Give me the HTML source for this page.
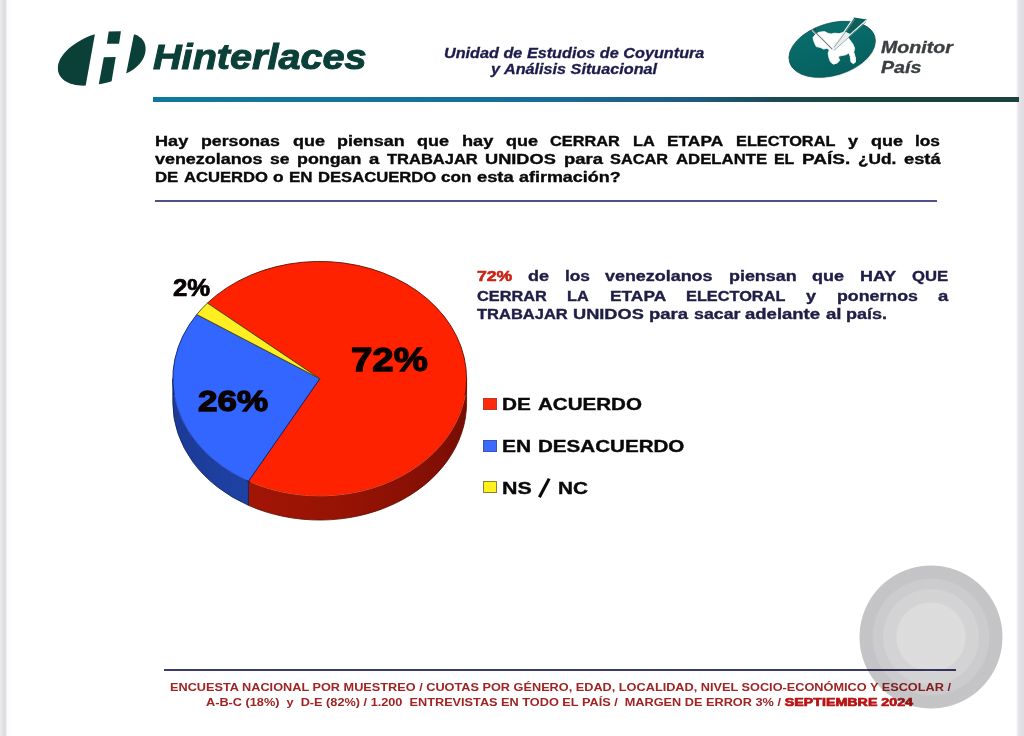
<!DOCTYPE html>
<html lang="es">
<head>
<meta charset="utf-8">
<title>Hinterlaces - Monitor País</title>
<style>
html,body{margin:0;padding:0;}
body{width:1024px;height:736px;overflow:hidden;background:#fff;position:relative;font-family:"Liberation Sans",sans-serif;}
.abs{position:absolute;}
.t{position:absolute;white-space:nowrap;transform-origin:0 0;line-height:1;font-weight:bold;}
#lstrip{left:0;top:0;width:12px;height:736px;background:linear-gradient(to right,#ebeaec 0px,#e5e4e6 2px,#dedde0 4px,#dbdadc 5.2px,#eeedf0 6.2px,#fbfafc 7.5px,#fefdff 10px,#ffffff 12px);}
#rstrip{left:1016px;top:0;width:8px;height:736px;background:linear-gradient(to right,#ffffff 0px,#f1eff3 1.2px,#e6e4e8 2.6px,#e1dfe3 5px,#dfdde1 8px);}
#hline{left:153px;top:96.6px;width:865.6px;height:5.3px;background:linear-gradient(to right,#10789c 0%,#14749e 25%,#1a6a96 47%,#1e5a7e 63%,#1a4a52 72%,#19443f 82%,#1a423e 100%);}
#qline{left:155px;top:200.4px;width:781.5px;height:2px;background:#525088;}
#fline{left:163.5px;top:669.3px;width:792px;height:1.4px;background:#3c3c68;}
.q{font-size:14.5px;color:#0a0a0a;-webkit-text-stroke:0.35px #0a0a0a;}
.pl{color:#0a0000;-webkit-text-stroke:1.3px #0a0000;}
.d{font-size:14.5px;color:#1e1e46;-webkit-text-stroke:0.35px #1e1e46;}
.r72{color:#cc2214;-webkit-text-stroke:0.55px #cc2214;font-size:14.8px;margin-top:-0.1px;}
.lg{left:483px;width:11.6px;height:10px;border:1px solid #444;}
.lt{font-size:17.3px;color:#0a0a0a;-webkit-text-stroke:0.4px #0a0a0a;}
.ft{font-size:11.7px;color:#a02424;transform:scaleX(1.088);}
.sep{color:#b81414;-webkit-text-stroke:0.7px #b81414;display:inline-block;transform:scaleX(1.12);transform-origin:0 0;}
#circ{left:858.5px;top:565px;width:144px;height:144px;border-radius:50%;background:radial-gradient(circle closest-side,rgba(14,10,18,0.140) 0,rgba(14,10,18,0.140) 47%,rgba(14,10,18,0.180) 49%,rgba(14,10,18,0.180) 65.5%,rgba(14,10,18,0.210) 67.5%,rgba(14,10,18,0.210) 80%,rgba(14,10,18,0.245) 82%,rgba(14,10,18,0.245) 98.6%,rgba(14,10,18,0) 100%);}
.mp{font-size:16.3px;font-style:italic;color:#3a4042;-webkit-text-stroke:0.35px #3a4042;transform:scaleX(1.205);}
</style>
</head>
<body>
<div id="lstrip" class="abs"></div>
<div id="rstrip" class="abs"></div>

<!-- HEADER -->
<svg class="abs" style="left:50px;top:25px" width="110" height="70" viewBox="50 25 110 70">
  <g fill="#0b4038">
    <path d="M94.9 34.2 C81.5 38 58.6 51.5 57.9 67.5 C57.2 79 69 86.2 85.7 85.6 Z"/>
    <path d="M108.7 31.5 L120.9 31.3 L119.1 43.8 L106.9 43.8 Z"/>
    <path d="M103.8 57.2 L115.7 57 L111.6 81.3 C107.5 82.8 103 83.8 98.8 84.2 Z"/>
    <path d="M134 34.2 C142 36.5 146 42.5 145.6 50 C145 60 137 68.5 126.2 73.5 Z"/>
  </g>
</svg>
<div class="t" id="hint" style="left:153.4px;top:39.5px;font-size:35.8px;font-style:italic;color:#0b4038;-webkit-text-stroke:1px #0b4038;transform:scaleX(1.107);">Hinterlaces</div>

<div class="t" id="u1" style="left:443.6px;top:45.9px;font-size:14.2px;font-style:italic;color:#1c1c4c;-webkit-text-stroke:0.3px #1c1c4c;transform:scaleX(1.143);">Unidad de Estudios de Coyuntura</div>
<div class="t" id="u2" style="left:491px;top:62.2px;font-size:14.2px;font-style:italic;color:#1c1c4c;-webkit-text-stroke:0.3px #1c1c4c;transform:scaleX(1.143);">y Análisis Situacional</div>


<svg class="abs" style="left:780px;top:10px" width="110" height="80" viewBox="780 10 110 80">
<defs>
<linearGradient id="gTeal" x1="0" y1="0" x2="0" y2="1"><stop offset="0" stop-color="#086e6c"/><stop offset="1" stop-color="#05605f"/></linearGradient>
<filter id="mb" x="-10%" y="-10%" width="120%" height="120%"><feGaussianBlur stdDeviation="0.45"/></filter>
</defs>
<ellipse cx="832.6" cy="50.2" rx="44.6" ry="26.1" transform="rotate(-17 832.6 50.2)" fill="#b9c9c8" opacity="0.55" filter="url(#mb)"/>
<ellipse cx="832.15" cy="49.3" rx="44.5" ry="26" transform="rotate(-17 832.15 49.3)" fill="url(#gTeal)" stroke="#0b4d4b" stroke-width="0.7"/>
<path d="M813.0 37.6 L815.1 34.8 L818.8 32.3 L824.5 31.5 L827.7 33.2 L831.0 34.0 L834.3 33.2 L839.1 33.6 L844.0 32.3 L847.3 31.5 L848.9 33.6 L848.1 37.6 L850.6 40.9 L853.0 44.2 L854.6 48.3 L853.8 52.3 L855.5 58.0 L855.5 62.1 L853.4 63.7 L851.0 62.1 L850.2 56.4 L848.9 53.1 L845.7 54.8 L841.6 55.6 L838.3 56.4 L839.6 60.5 L837.5 62.9 L833.4 64.2 L830.6 62.1 L829.0 58.0 L828.1 53.1 L829.4 49.9 L826.9 48.3 L823.6 49.1 L820.4 47.4 L816.3 46.6 L814.7 43.4 L813.5 40.1 Z" fill="#fdfefe" stroke="#fdfefe" stroke-width="0.8" stroke-linejoin="round" filter="url(#mb)"/>
<path d="M853.8 17.6 L867.3 19.6 L850.5 34.3 L844.6 31.6 Z" fill="#0b5f5b"/>
<path d="M844.6 31.6 L850.5 34.3 L834 49 Z" fill="#e9eced"/>
<path d="M812.2 29 L815.6 29.2 L817 33.6 Z" fill="#0a4f4c"/>
<path d="M812.2 29.1 L832.4 49.3" stroke="#7d7478" stroke-width="1.1" fill="none"/>
<path d="M811.6 30.2 L831.6 50" stroke="#f4f4f6" stroke-width="1" fill="none"/>
<path d="M853.6 17.8 L832.8 48.3" stroke="#dff3f4" stroke-width="1.2" fill="none"/>
<path d="M855 19 L834 47.6" stroke="#8f8a90" stroke-width="0.8" fill="none"/>
<path d="M866.9 19.8 L833 49.6" stroke="#dff3f4" stroke-width="1.2" fill="none"/>
<path d="M866 22 L834 50.4" stroke="#8f8a90" stroke-width="0.8" fill="none"/>
</svg>
<div class="t mp" style="left:881.3px;top:39.3px;">Monitor</div>
<div class="t mp" style="left:881.3px;top:59.4px;">País</div>
<div id="hline" class="abs"></div>

<!-- QUESTION -->
<div class="t q" style="left:155.3px;top:133.6px;transform:scaleX(1.248);">Hay</div>
<div class="t q" style="left:201.1px;top:133.6px;transform:scaleX(1.222);">personas</div>
<div class="t q" style="left:292.5px;top:133.6px;transform:scaleX(1.240);">que</div>
<div class="t q" style="left:337.1px;top:133.6px;transform:scaleX(1.234);">piensan</div>
<div class="t q" style="left:417.4px;top:133.6px;transform:scaleX(1.240);">que</div>
<div class="t q" style="left:461.9px;top:133.6px;transform:scaleX(1.252);">hay</div>
<div class="t q" style="left:505.8px;top:133.6px;transform:scaleX(1.240);">que</div>
<div class="t q" style="left:550.4px;top:133.6px;transform:scaleX(1.125);">CERRAR</div>
<div class="t q" style="left:632.8px;top:133.6px;transform:scaleX(1.126);">LA</div>
<div class="t q" style="left:667.2px;top:133.6px;transform:scaleX(1.196);">ETAPA</div>
<div class="t q" style="left:736.1px;top:133.6px;transform:scaleX(1.125);">ELECTORAL</div>
<div class="t q" style="left:848.1px;top:133.6px;transform:scaleX(1.243);">y</div>
<div class="t q" style="left:870.7px;top:133.6px;transform:scaleX(1.240);">que</div>
<div class="t q" style="left:915.3px;top:133.6px;transform:scaleX(1.192);">los</div>
<div class="t q" style="left:155.3px;top:151.6px;transform:scaleX(1.235);">venezolanos</div>
<div class="t q" style="left:270.3px;top:151.6px;transform:scaleX(1.201);">se</div>
<div class="t q" style="left:297.2px;top:151.6px;transform:scaleX(1.229);">pongan</div>
<div class="t q" style="left:369.1px;top:151.6px;transform:scaleX(1.276);">a</div>
<div class="t q" style="left:386.9px;top:151.6px;transform:scaleX(1.138);">TRABAJAR</div>
<div class="t q" style="left:485.2px;top:151.6px;transform:scaleX(1.255);">UNIDOS</div>
<div class="t q" style="left:563.5px;top:151.6px;transform:scaleX(1.273);">para</div>
<div class="t q" style="left:610.0px;top:151.6px;transform:scaleX(1.126);">SACAR</div>
<div class="t q" style="left:675.6px;top:151.6px;transform:scaleX(1.154);">ADELANTE</div>
<div class="t q" style="left:774.2px;top:151.6px;transform:scaleX(1.097);">EL</div>
<div class="t q" style="left:802.1px;top:151.6px;transform:scaleX(1.309);">PAÍS.</div>
<div class="t q" style="left:857.8px;top:151.6px;transform:scaleX(1.190);">¿Ud.</div>
<div class="t q" style="left:903.6px;top:151.6px;transform:scaleX(1.263);">está</div>
<div class="t q" style="left:155.3px;top:169.9px;transform:scaleX(1.157);">DE</div>
<div class="t q" style="left:183.9px;top:169.9px;transform:scaleX(1.146);">ACUERDO</div>
<div class="t q" style="left:273.2px;top:169.9px;transform:scaleX(1.195);">o</div>
<div class="t q" style="left:289.0px;top:169.9px;transform:scaleX(1.170);">EN</div>
<div class="t q" style="left:317.8px;top:169.9px;transform:scaleX(1.147);">DESACUERDO</div>
<div class="t q" style="left:441.4px;top:169.9px;transform:scaleX(1.187);">con</div>
<div class="t q" style="left:477.3px;top:169.9px;transform:scaleX(1.263);">esta</div>
<div class="t q" style="left:519.2px;top:169.9px;transform:scaleX(1.237);">afirmación?</div>

<!-- PIE -->
<svg class="abs" style="left:150px;top:240px" width="340" height="300" viewBox="150 240 340 300">
<defs>
<linearGradient id="gRedSide" x1="248" y1="0" x2="467" y2="0" gradientUnits="userSpaceOnUse">
<stop offset="0" stop-color="#a21505"/><stop offset="0.45" stop-color="#961304"/><stop offset="0.8" stop-color="#861004"/><stop offset="1" stop-color="#780d03"/>
</linearGradient>
<linearGradient id="gBlueSide" x1="172" y1="0" x2="248" y2="0" gradientUnits="userSpaceOnUse">
<stop offset="0" stop-color="#1c3a96"/><stop offset="1" stop-color="#1e42a4"/>
</linearGradient>
</defs>
<path d="M466.6 378.7 A146.9 117.3 0 0 1 248.4 481.3 L248.4 505.3 A146.9 117.3 0 0 0 466.6 402.7 Z" fill="url(#gRedSide)" stroke="#5a0a02" stroke-width="0.8"/>
<path d="M248.4 481.3 A146.9 117.3 0 0 1 172.8 378.7 L172.8 402.7 A146.9 117.3 0 0 0 248.4 505.3 Z" fill="url(#gBlueSide)" stroke="#0c1f5c" stroke-width="0.8"/>
<path d="M319.8 378.7 L207.4 303.1 A146.9 117.3 0 1 1 248.4 481.3 Z" fill="#ff2200" stroke="#5e1208" stroke-width="0.9" stroke-linejoin="round"/>
<path d="M319.8 378.7 L248.4 481.3 A146.9 117.3 0 0 1 196.8 314.5 Z" fill="#3366ff" stroke="#101f6a" stroke-width="0.9" stroke-linejoin="round"/>
<path d="M319.8 378.7 L196.8 314.5 A146.9 117.3 0 0 1 207.4 303.1 Z" fill="#ffee22" stroke="#4e4410" stroke-width="0.9" stroke-linejoin="round"/>
<path d="M465.2 395.0 A146.9 117.3 0 0 1 250.7 482.2" fill="none" stroke="#ff4a28" stroke-width="1" opacity="0.9"/>
<path d="M246.2 480.2 A146.9 117.3 0 0 1 174.3 395.0" fill="none" stroke="#3a62e0" stroke-width="0.9" opacity="0.9"/>
</svg>
<div class="t pl" id="p72" style="left:350.9px;top:341.9px;font-size:34px;transform:scaleX(1.13);">72%</div>
<div class="t pl" id="p26" style="left:198.4px;top:386.1px;font-size:30px;transform:scaleX(1.168);">26%</div>
<div class="t pl" id="p2" style="left:173px;top:276.9px;font-size:23.2px;-webkit-text-stroke:0.7px #000;transform:scaleX(1.11);">2%</div>

<!-- DESCRIPTION -->
<div class="t d r72" style="left:477.2px;top:269.3px;transform:scaleX(1.192);">72%</div>
<div class="t d" style="left:527.7px;top:269.3px;transform:scaleX(1.241);">de</div>
<div class="t d" style="left:564.5px;top:269.3px;transform:scaleX(1.192);">los</div>
<div class="t d" style="left:605.4px;top:269.3px;transform:scaleX(1.235);">venezolanos</div>
<div class="t d" style="left:728.7px;top:269.3px;transform:scaleX(1.234);">piensan</div>
<div class="t d" style="left:812.2px;top:269.3px;transform:scaleX(1.240);">que</div>
<div class="t d" style="left:860.0px;top:269.3px;transform:scaleX(1.236);">HAY</div>
<div class="t d" style="left:912.1px;top:269.3px;transform:scaleX(1.149);">QUE</div>
<div class="t d" style="left:477.2px;top:288.6px;transform:scaleX(1.125);">CERRAR</div>
<div class="t d" style="left:567.4px;top:288.6px;transform:scaleX(1.126);">LA</div>
<div class="t d" style="left:609.6px;top:288.6px;transform:scaleX(1.196);">ETAPA</div>
<div class="t d" style="left:686.3px;top:288.6px;transform:scaleX(1.125);">ELECTORAL</div>
<div class="t d" style="left:806.1px;top:288.6px;transform:scaleX(1.243);">y</div>
<div class="t d" style="left:836.6px;top:288.6px;transform:scaleX(1.225);">ponernos</div>
<div class="t d" style="left:937.9px;top:288.6px;transform:scaleX(1.276);">a</div>
<div class="t d" style="left:477.2px;top:306.8px;transform:scaleX(1.138);">TRABAJAR</div>
<div class="t d" style="left:573.2px;top:306.8px;transform:scaleX(1.255);">UNIDOS</div>
<div class="t d" style="left:649.2px;top:306.8px;transform:scaleX(1.273);">para</div>
<div class="t d" style="left:693.5px;top:306.8px;transform:scaleX(1.225);">sacar</div>
<div class="t d" style="left:745.2px;top:306.8px;transform:scaleX(1.276);">adelante</div>
<div class="t d" style="left:825.5px;top:306.8px;transform:scaleX(1.286);">al</div>
<div class="t d" style="left:846.3px;top:306.8px;transform:scaleX(1.241);">país.</div>

<!-- LEGEND -->
<div class="abs lg" style="top:398px;background:#ff2a0c;border-color:#c03a2a;"></div>
<div class="abs lg" style="top:439.5px;background:#3a6aff;border-color:#3a56b0;"></div>
<div class="abs lg" style="top:481px;background:#fff01e;border-color:#8a8030;"></div>
<div class="t lt" style="left:502.3px;top:395.8px;transform:scaleX(1.201);">DE</div>
<div class="t lt" style="left:537.6px;top:395.8px;transform:scaleX(1.190);">ACUERDO</div>
<div class="t lt" style="left:502.3px;top:437.7px;transform:scaleX(1.214);">EN</div>
<div class="t lt" style="left:538.0px;top:437.7px;transform:scaleX(1.191);">DESACUERDO</div>
<div class="t lt" style="left:502.3px;top:480.0px;transform:scaleX(1.236);">NS</div>
<div class="t lt" style="left:558.1px;top:480.0px;transform:scaleX(1.198);">NC</div>
<svg class="abs" style="left:530px;top:470px" width="30" height="34" viewBox="530 470 30 34"><path d="M539.4 497.2 L549.2 478.6" stroke="#0a0a0a" stroke-width="3.1" fill="none"/></svg>

<!-- FOOTER -->
<div class="t ft" style="left:170.2px;top:680.7px;">ENCUESTA NACIONAL POR MUESTREO / CUOTAS POR GÉNERO, EDAD, LOCALIDAD, NIVEL SOCIO-ECONÓMICO Y ESCOLAR /</div>
<div class="t ft" style="left:206.2px;top:696.3px;white-space:pre;">A-B-C (18%)  y  D-E (82%) / 1.200  ENTREVISTAS EN TODO EL PAÍS /  MARGEN DE ERROR 3% / <span class="sep">SEPTIEMBRE 2024</span></div>
<div id="qline" class="abs"></div>
<div id="fline" class="abs"></div>

<!-- TOUCH CIRCLE -->
<div class="abs" id="circ"></div>
</body>
</html>
